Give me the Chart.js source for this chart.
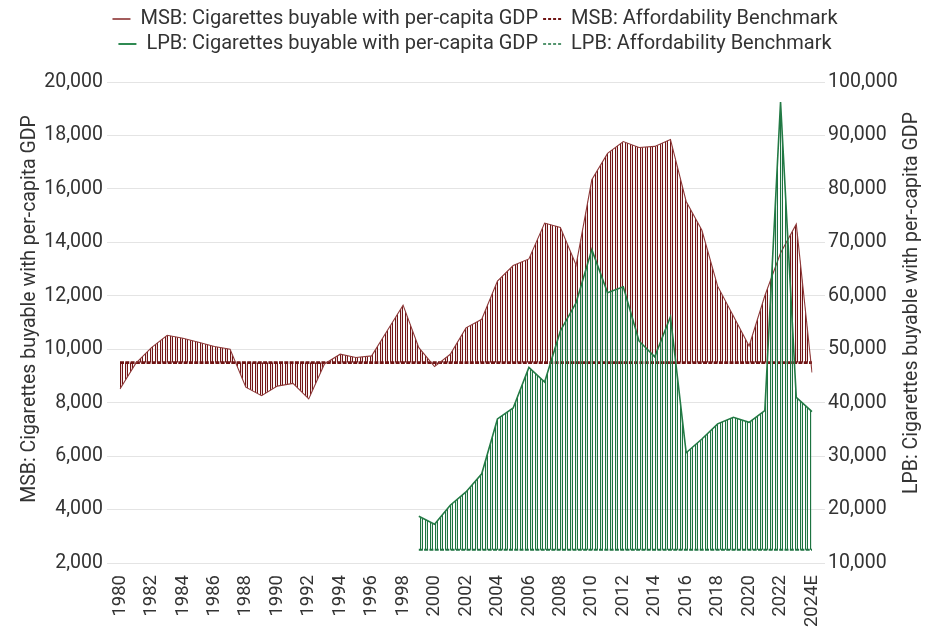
<!DOCTYPE html>
<html>
<head>
<meta charset="utf-8">
<script src="https://cdn.jsdelivr.net/npm/chart.js@4.4.1/dist/chart.umd.min.js"></script>
<style>
  html, body { margin: 0; padding: 0; background: #ffffff; }
  #wrap { width: 932px; height: 629px; }
</style>
</head>
<body>
<div id="wrap"><canvas id="c" width="932" height="629"></canvas></div>
<script>
const years = ['1980','1981','1982','1983','1984','1985','1986','1987','1988','1989',
  '1990','1991','1992','1993','1994','1995','1996','1997','1998','1999',
  '2000','2001','2002','2003','2004','2005','2006','2007','2008','2009',
  '2010','2011','2012','2013','2014','2015','2016','2017','2018','2019',
  '2020','2021','2022','2023','2024E'];

const msbValues = [8510, 9470, 10060, 10520, 10410, 10260, 10100, 10000, 8580, 8260,
  8620, 8720, 8140, 9450, 9815, 9690, 9750, 10700, 11650, 10060,
  9350, 9810, 10800, 11120, 12550, 13130, 13380, 14720, 14560, 13150,
  16340, 17330, 17770, 17550, 17590, 17850, 15530, 14450, 12360, 11240,
  10120, 12000, 13600, 14680, 9130];

const msbBenchmark = [9500, 9500, 9500, 9500, 9500, 9500, 9500, 9500, 9500, 9500,
  9500, 9500, 9500, 9500, 9500, 9500, 9500, 9500, 9500, 9500,
  9500, 9500, 9500, 9500, 9500, 9500, 9500, 9500, 9500, 9500,
  9500, 9500, 9500, 9500, 9500, 9500, 9500, 9500, 9500, 9500,
  9500, 9500, 9500, 9500, 9500];

const lpbValues = [null, null, null, null, null, null, null, null, null, null,
  null, null, null, null, null, null, null, null, null, 18760,
  17270, 20810, 23290, 26700, 36960, 39010, 46580, 43850, 53420, 58690,
  68640, 60550, 61670, 51550, 48570, 56080, 30630, 33200, 36030, 37260,
  36330, 38510, 96250, 40990, 38340];

const lpbBenchmark = [null, null, null, null, null, null, null, null, null, null,
  null, null, null, null, null, null, null, null, null, 12500,
  12500, 12500, 12500, 12500, 12500, 12500, 12500, 12500, 12500, 12500,
  12500, 12500, 12500, 12500, 12500, 12500, 12500, 12500, 12500, 12500,
  12500, 12500, 12500, 12500, 12500];

const leftTicks = [2000, 4000, 6000, 8000, 10000, 12000, 14000, 16000, 18000, 20000];
const rightTicks = [10000, 20000, 30000, 40000, 50000, 60000, 70000, 80000, 90000, 100000];

const seriesNames = {
  msb: 'MSB: Cigarettes buyable with per-capita GDP',
  msbB: 'MSB: Affordability Benchmark',
  lpb: 'LPB: Cigarettes buyable with per-capita GDP',
  lpbB: 'LPB: Affordability Benchmark'
};
const axisTitles = {
  left: 'MSB: Cigarettes buyable with per-capita GDP',
  right: 'LPB: Cigarettes buyable with per-capita GDP'
};

const MAROON = '#701515';
const MAROON_LINE = '#8e3a3a';
const MAROON_LEGEND = '#a35c5c';
const GREEN = '#1d7340';
const GREEN_LINE = '#237a45';
const GREEN_LEGEND = '#2f8a52';

function stripes(color) {
  const c = document.createElement('canvas');
  c.width = 5; c.height = 4;
  const g = c.getContext('2d');
  g.fillStyle = color;
  g.fillRect(0, 0, 1, 4);
  g.fillRect(2, 0, 1, 4);
  g.globalAlpha = 0.15;
  g.fillRect(1, 0, 1, 4);
  return g.createPattern(c, 'repeat');
}

const FONT = 'Roboto, "Open Sans", sans-serif';
const FS = 19.5;
const TXT = '#333333';
const GRID = '#e4e4e4';

const ctx = document.getElementById('c').getContext('2d');
const msbPattern = stripes(MAROON);
const lpbPattern = stripes(GREEN);

const legendOrder = [
  { text: seriesNames.msb, strokeStyle: MAROON_LEGEND, lineWidth: 2, lineDash: [] , ds: 2},
  { text: seriesNames.msbB, strokeStyle: MAROON, lineWidth: 2, lineDash: [3, 2], ds: 3},
  { text: seriesNames.lpb, strokeStyle: GREEN_LEGEND, lineWidth: 2, lineDash: [], ds: 0},
  { text: seriesNames.lpbB, strokeStyle: GREEN, lineWidth: 1.5, lineDash: [3, 2], ds: 1}
];

const legendSpace = {
  id: 'legendSpace',
  beforeInit(chart) {
    const orig = chart.legend.fit;
    chart.legend.fit = function() {
      orig.bind(chart.legend)();
      this.height += 18;
    };
  },
  afterLayout(chart) {
    chart.legend.left += 18;
  }
};

const axisTitlePlugin = {
  id: 'axisTitlePlugin',
  afterDraw(chart) {
    const c = chart.ctx;
    c.save();
    c.fillStyle = TXT;
    c.font = FS + 'px ' + FONT;
    c.textAlign = 'center';
    c.textBaseline = 'middle';
    c.translate(30, 309);
    c.rotate(-Math.PI / 2);
    c.fillText(axisTitles.left, 0, 0);
    c.restore();
    c.save();
    c.fillStyle = TXT;
    c.font = FS + 'px ' + FONT;
    c.textAlign = 'center';
    c.textBaseline = 'middle';
    c.translate(912, 303);
    c.rotate(-Math.PI / 2);
    c.fillText(axisTitles.right, 0, 0);
    c.restore();
  }
};

new Chart(ctx, {
  type: 'line',
  plugins: [legendSpace, axisTitlePlugin],
  data: {
    labels: years,
    datasets: [
      {
        label: seriesNames.lpb, data: lpbValues, yAxisID: 'y2',
        borderColor: GREEN_LINE, borderWidth: 1.6, pointRadius: 0, tension: 0,
        backgroundColor: lpbPattern,
        fill: { target: 1, above: lpbPattern, below: lpbPattern }
      },
      {
        label: seriesNames.lpbB, data: lpbBenchmark, yAxisID: 'y2',
        borderColor: GREEN, borderWidth: 2, borderDash: [4, 1.3], pointRadius: 0, tension: 0, fill: false
      },
      {
        label: seriesNames.msb, data: msbValues, yAxisID: 'y',
        borderColor: MAROON_LINE, borderWidth: 1.1, pointRadius: 0, tension: 0,
        backgroundColor: msbPattern,
        fill: { target: 3, above: msbPattern, below: msbPattern }
      },
      {
        label: seriesNames.msbB, data: msbBenchmark, yAxisID: 'y',
        borderColor: MAROON, borderWidth: 2.6, borderDash: [4, 1.3], pointRadius: 0, tension: 0, fill: false
      }
    ]
  },
  options: {
    responsive: false,
    animation: false,
    layout: { padding: { top: 4, left: 0, right: 0, bottom: 0 } },
    plugins: {
      tooltip: { enabled: false },
      legend: {
        position: 'top',
        labels: {
          color: TXT,
          font: { family: FONT, size: 20 },
          usePointStyle: true,
          pointStyleWidth: 18,
          boxWidth: 18,
          padding: 5,
          generateLabels: () => legendOrder.map(o => ({
            text: o.text, fontColor: TXT, fillStyle: 'rgba(0,0,0,0)',
            strokeStyle: o.strokeStyle, lineWidth: o.lineWidth, lineDash: o.lineDash,
            pointStyle: 'line', hidden: false, datasetIndex: o.ds
          }))
        }
      }
    },
    scales: {
      x: {
        type: 'category',
        offset: false,
        afterFit: s => { s.height = 66; },
        grid: { display: false },
        border: { display: false },
        ticks: {
          autoSkip: false, maxRotation: 90, minRotation: 90, padding: 4,
          color: TXT, font: { family: FONT, size: 18.5 },
          callback: function(v, i) { return i % 2 === 0 ? years[i] : ''; }
        }
      },
      y: {
        position: 'left', min: 2000, max: 20000,
        afterFit: s => { s.width = 120; },
        afterBuildTicks: s => { s.ticks = leftTicks.map(v => ({ value: v })); },
        border: { display: false },
        grid: { color: GRID, lineWidth: 1, tickLength: 13, drawTicks: true },
        ticks: {
          padding: 4, color: TXT, font: { family: FONT, size: FS },
          callback: v => v.toLocaleString('en-US')
        }
      },
      y2: {
        position: 'right', min: 10000, max: 100000,
        afterFit: s => { s.width = 120; },
        afterBuildTicks: s => { s.ticks = rightTicks.map(v => ({ value: v })); },
        border: { display: false },
        grid: { color: GRID, lineWidth: 1, tickLength: 13, drawOnChartArea: false, drawTicks: true },
        ticks: {
          padding: 3, color: TXT, font: { family: FONT, size: FS },
          callback: v => v.toLocaleString('en-US')
        }
      }
    }
  }
});
</script>
</body>
</html>
